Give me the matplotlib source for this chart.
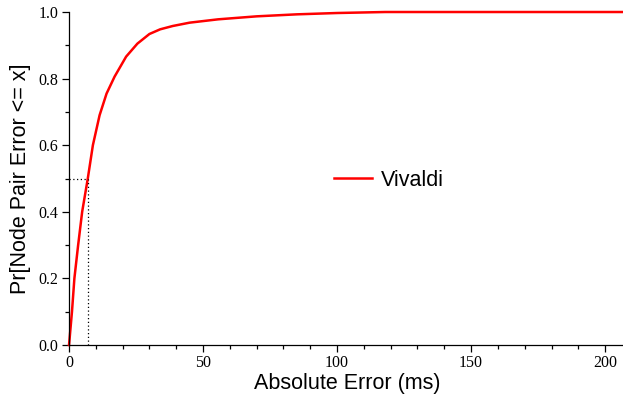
import matplotlib.pyplot as plt
from matplotlib.ticker import MultipleLocator

# CDF of absolute error
err_ms = [0, 1.1, 2.0, 3.4, 4.9, 7.0, 8.9, 11.4, 14, 17, 21.3, 25.5, 30, 34,
          38.7, 45, 55.6, 70, 85, 100, 118, 210]
cdf = [0, 0.1, 0.2, 0.3, 0.4, 0.5, 0.6, 0.69, 0.755, 0.806, 0.866, 0.905,
       0.934, 0.948, 0.958, 0.968, 0.978, 0.987, 0.993, 0.997, 1.0, 1.0]
median_x = 7.1
median_y = 0.5

fig = plt.figure(figsize=(6.23, 3.95), dpi=100)
ax = fig.add_axes([0.1108, 0.1266, 0.8876, 0.843])

ax.plot(err_ms, cdf, color='red', lw=1.8, label='Vivaldi', clip_on=False)
ax.plot([0, median_x], [median_y, median_y], color='black', ls=(0, (1, 2)), lw=0.9)
ax.plot([median_x, median_x], [0, median_y], color='black', ls=(0, (1, 2)), lw=0.9)

ax.set_xlim(0, 206.3)
ax.set_ylim(0, 1.0)
ax.xaxis.set_major_locator(MultipleLocator(50))
ax.xaxis.set_minor_locator(MultipleLocator(10))
ax.yaxis.set_major_locator(MultipleLocator(0.2))
ax.yaxis.set_minor_locator(MultipleLocator(0.1))
ax.yaxis.set_major_formatter(plt.FormatStrFormatter('%.1f'))

for s in ['top', 'right']:
    ax.spines[s].set_visible(False)
for s in ['left', 'bottom']:
    ax.spines[s].set_linewidth(0.9)

ax.tick_params(which='major', direction='out', length=5, width=0.9, pad=2.5)
ax.tick_params(which='minor', direction='out', length=3, width=0.9)
for lab in ax.get_xticklabels() + ax.get_yticklabels():
    lab.set_family('Liberation Serif')
    lab.set_fontsize(11.5)

ax.set_xlabel('Absolute Error (ms)', family='Liberation Sans', fontsize=15.5)
ax.set_ylabel('Pr[Node Pair Error <= x]', family='Liberation Sans', fontsize=15.5)
ax.xaxis.set_label_coords(0.503, -0.084)
ax.yaxis.set_label_coords(-0.069, 0.5)

leg = ax.legend(loc='center left', bbox_to_anchor=(0.445, 0.495), frameon=False,
                prop={'family': 'Liberation Sans', 'size': 15.5},
                handlelength=1.75, handletextpad=0.4)

fig.savefig('out.png', dpi=100)
